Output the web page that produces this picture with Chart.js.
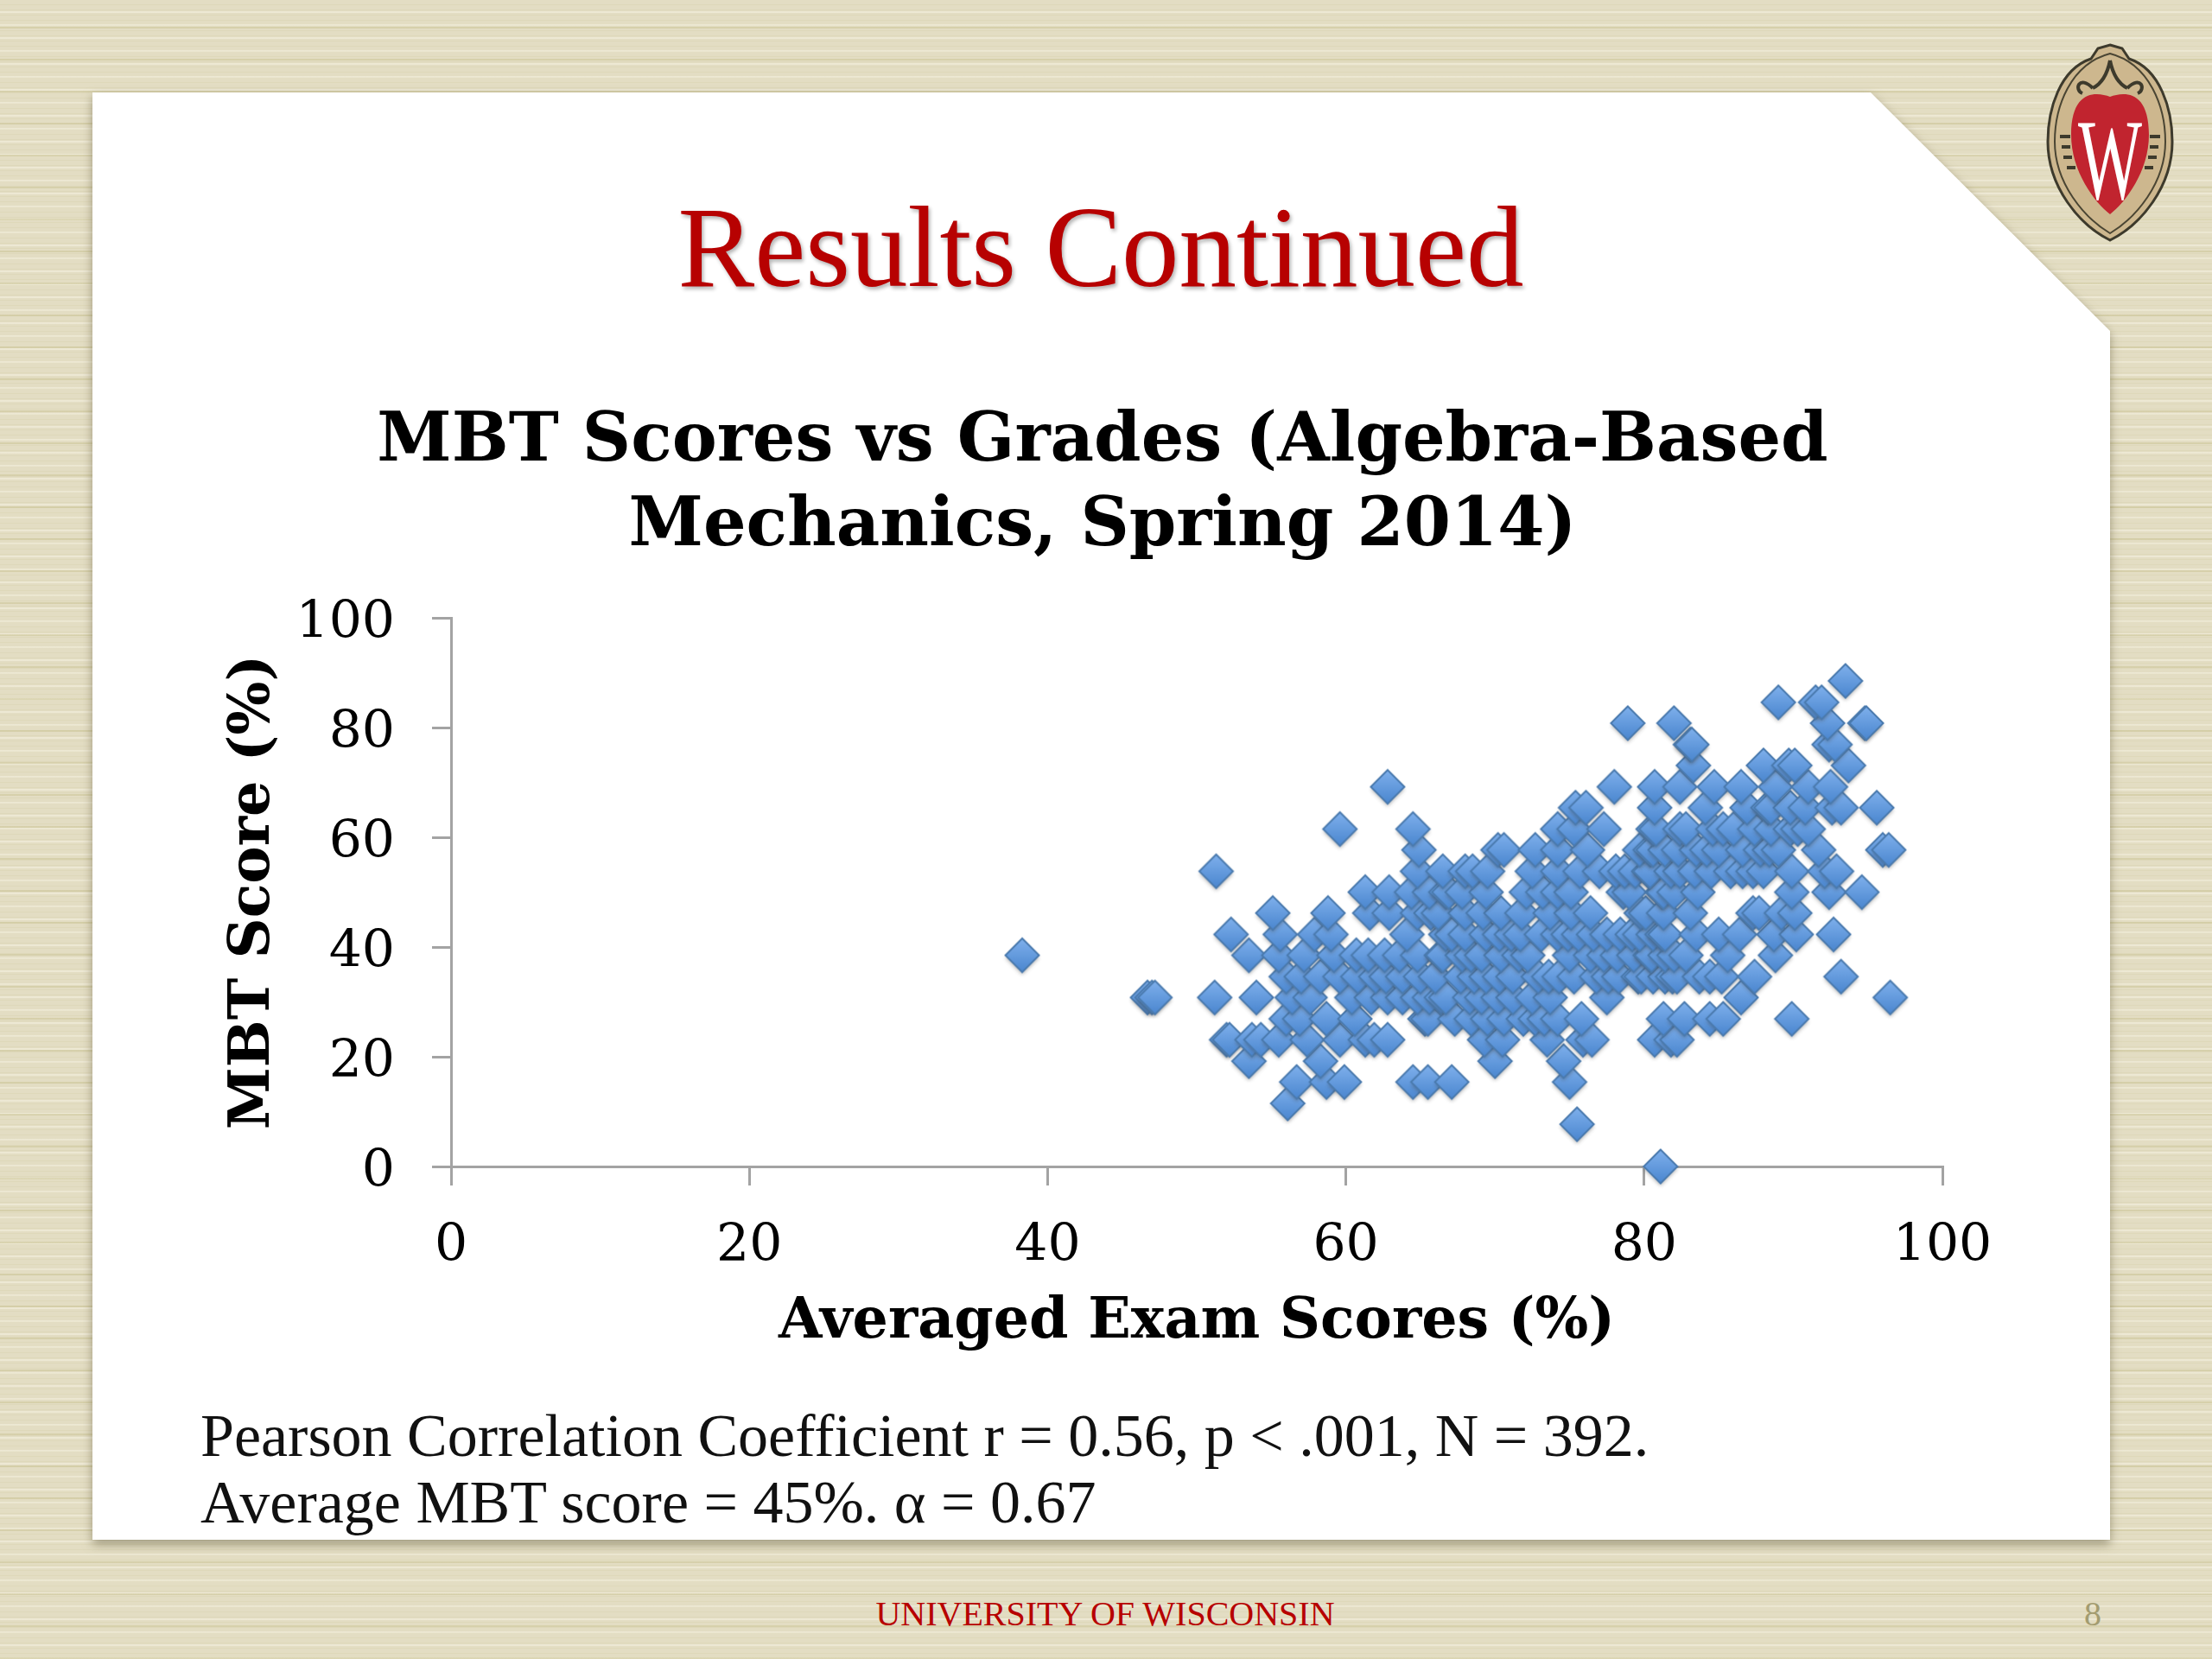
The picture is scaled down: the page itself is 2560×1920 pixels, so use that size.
<!DOCTYPE html>
<html>
<head>
<meta charset="utf-8">
<script src="https://cdn.jsdelivr.net/npm/chart.js@4/dist/chart.umd.min.js"></script>
<style>
html, body { margin: 0; padding: 0; }
body {
  position: relative; width: 2560px; height: 1920px; overflow: hidden;
  background-color: #e3ddc3;
  background-image:
    repeating-linear-gradient(0deg, rgba(195,188,135,.4) 0 2px, transparent 2px 37px),
    repeating-linear-gradient(0deg, rgba(245,241,225,.55) 0 2px, transparent 2px 15px),
    repeating-linear-gradient(0deg, rgba(210,204,165,.3) 0 1px, transparent 1px 6px);
}
.slide-wrap { position: absolute; left: 0; top: 0; width: 2560px; height: 1920px; filter: drop-shadow(0 5px 6px rgba(95,88,55,.55)); }
.slide { position: absolute; left: 107px; top: 107px; width: 2335px; height: 1675px; background: #fff;
  clip-path: polygon(0 0, 2058px 0, 2335px 276px, 2335px 1675px, 0 1675px); }
.txt { position: absolute; font-family: "Liberation Serif", serif; white-space: nowrap; }
#head { left: 0; width: 2548px; top: 211px; text-align: center; font-size: 133px; line-height: 150px; color: #b70101; text-shadow: 2px 3px 4px rgba(0,0,0,.3); }
#stats { left: 232px; top: 1623px; font-size: 70px; line-height: 77px; color: #111; }
#foot { left: 0; width: 2558px; top: 1846px; text-align: center; font-size: 40px; line-height: 44px; color: #b70101; }
#page { left: 2412px; top: 1846px; font-size: 40px; line-height: 44px; color: #a39c70; }
#crest { position: absolute; left: 2360px; top: 46px; }
#chartBox { position: absolute; left: 200px; top: 440px; width: 2152px; height: 1160px; }
</style>
</head>
<body>
<div class="slide-wrap"><div class="slide"></div></div>
<div class="txt" id="head">Results Continued</div>
<svg id="crest" width="164" height="240" viewBox="0 0 164 240">
  <path d="M82 6 L96 10 L104 22 C140 34 154 80 154 118 C154 170 118 214 82 232 C46 214 10 170 10 118 C10 80 24 34 60 22 L68 10 Z" fill="#cdb78e" stroke="#3d3a2c" stroke-width="3"/>
  <path d="M82 16 C128 28 146 78 146 118 C146 166 112 206 82 224 C52 206 18 166 18 118 C18 78 36 28 82 16 Z" fill="none" stroke="#4a4533" stroke-width="2"/>
  <path d="M62 56 C46 40 40 58 50 62 M102 56 C118 40 124 58 114 62 M82 24 C78 44 70 52 62 56 M82 24 C86 44 94 52 102 56" fill="none" stroke="#3d3a2c" stroke-width="4"/>
  <path d="M24 112 h12 M26 124 h10 M28 136 h10 M32 148 h10 M140 112 h-12 M138 124 h-10 M136 136 h-10 M132 148 h-10" fill="none" stroke="#3d3a2c" stroke-width="4"/>
  <path d="M82 66 C98 60 127 58 127 110 C127 152 100 188 82 202 C64 188 37 152 37 110 C37 58 66 60 82 66 Z" fill="#c1242f"/>
  <text x="82" y="184" text-anchor="middle" font-family="Liberation Serif" font-size="134" fill="#fff" textLength="74" lengthAdjust="spacingAndGlyphs">W</text>
</svg>
<div id="chartBox"><canvas id="myChart" width="2152" height="1160"></canvas></div>
<div class="txt" id="stats">Pearson Correlation Coefficient r = 0.56, p &lt; .001, N = 392.<br>Average MBT score = 45%. α = 0.67</div>
<div class="txt" id="foot">UNIVERSITY OF WISCONSIN</div>
<div class="txt" id="page">8</div>
<script>
let titleLines = ['MBT Scores vs Grades (Algebra-Based', 'Mechanics, Spring 2014)'];
let xAxisName = 'Averaged Exam Scores (%)';
let yAxisName = 'MBT Score (%)';
let xTickValues = [0, 20, 40, 60, 80, 100];
let yTickValues = [0, 20, 40, 60, 80, 100];

// MBT scores come in steps of one question, so the points sit in rows
let mbtRows = [0, 7.7, 11.5, 15.4, 19.2, 23.1, 26.9, 30.8, 34.6, 38.5, 42.3, 46.2, 50, 53.8, 57.7, 61.5, 65.4, 69.2, 73.1, 76.9, 80.8, 84.6, 88.5];

// exam scores, one list per row above
let examByRow = [
  [81.1],
  [75.5],
  [56.1],
  [56.7, 58.7, 59.9, 64.5, 65.5, 67.1, 75.0],
  [53.5, 58.3, 70.0, 74.6],
  [52.0, 52.2, 53.7, 54.3, 55.5, 57.4, 59.6, 61.3, 61.9, 62.8, 69.3, 70.5, 73.5, 75.9, 76.5, 80.7, 81.8, 82.2],
  [56.0, 56.9, 58.7, 60.6, 65.3, 65.5, 67.3, 68.4, 69.5, 70.6, 71.9, 72.7, 73.3, 74.2, 75.8, 81.3, 82.7, 84.4, 85.3, 89.9],
  [46.7, 47.0, 47.2, 51.2, 54.0, 56.4, 57.6, 60.4, 61.7, 62.8, 63.8, 64.8, 65.6, 66.4, 66.7, 68.3, 69.1, 70.2, 71.2, 72.5, 73.7, 77.5, 86.5, 96.5],
  [56.0, 57.0, 58.3, 59.6, 60.8, 62.0, 62.7, 63.8, 65.0, 66.0, 67.7, 68.6, 69.4, 70.3, 71.2, 72.9, 73.6, 74.3, 75.3, 76.8, 77.6, 78.3, 79.6, 79.8, 80.6, 81.4, 81.9, 82.2, 83.7, 84.4, 85.2, 87.4, 93.2],
  [38.3, 53.5, 55.5, 57.2, 59.2, 60.7, 61.5, 62.6, 63.6, 64.8, 66.4, 66.5, 67.8, 68.4, 69.1, 70.4, 71.6, 72.2, 75.0, 76.4, 77.3, 78.2, 79.3, 80.4, 80.5, 81.4, 82.0, 82.8, 85.6, 88.8],
  [52.3, 55.6, 57.9, 59.0, 64.1, 66.7, 67.1, 68.0, 69.4, 70.3, 71.1, 71.7, 73.1, 74.2, 74.9, 75.6, 76.6, 77.5, 78.4, 79.2, 79.7, 80.6, 81.2, 81.4, 83.5, 85.0, 86.4, 88.7, 90.2, 92.7],
  [55.1, 58.8, 61.6, 62.9, 64.8, 65.7, 66.2, 68.0, 69.2, 70.4, 71.8, 73.7, 75.1, 76.4, 79.8, 80.1, 81.3, 83.1, 87.3, 87.7, 89.2, 90.1],
  [61.3, 62.9, 64.4, 65.6, 66.7, 66.9, 67.8, 69.4, 72.1, 73.2, 74.2, 75.1, 78.6, 79.0, 81.2, 81.3, 82.0, 83.6, 89.9, 92.4, 94.6],
  [51.3, 64.8, 66.5, 68.0, 68.5, 69.5, 72.5, 74.2, 75.7, 77.0, 78.1, 78.7, 79.4, 80.3, 80.4, 81.8, 82.4, 83.4, 84.5, 85.8, 86.6, 87.3, 88.0, 89.9, 92.1, 92.9],
  [64.9, 70.2, 70.6, 72.7, 74.2, 76.2, 79.7, 80.4, 80.6, 81.4, 82.3, 83.5, 84.2, 85.0, 86.6, 87.8, 88.4, 89.0, 91.7, 96.0, 96.4],
  [59.6, 64.5, 74.2, 75.3, 77.3, 80.6, 80.8, 82.4, 82.8, 84.6, 85.3, 86.0, 87.4, 88.5, 89.8, 90.3, 91.0],
  [75.4, 76.1, 80.7, 84.1, 86.9, 88.3, 88.5, 89.8, 90.8, 92.6, 93.2, 95.6],
  [62.8, 78.0, 80.7, 82.4, 84.7, 86.5, 88.8, 91.0, 92.5],
  [83.3, 88.0, 89.7, 90.1, 93.7],
  [83.1, 83.2, 92.4, 92.8],
  [78.9, 82.0, 92.3, 94.8, 94.9],
  [89.0, 91.5, 91.9],
  [93.5]
];

let points = [];
mbtRows.forEach(function(mbt, i) {
  examByRow[i].forEach(function(exam) {
    points.push({x: exam, y: mbt});
  });
});

// the glossy diamond marker
function makeDiamond() {
  let c = document.createElement('canvas');
  c.width = 54;
  c.height = 54;
  let g = c.getContext('2d');
  let mid = 27, r = 19.5;
  let fill = g.createLinearGradient(0, mid - r, 0, mid + r);
  fill.addColorStop(0, '#7fb0ec');
  fill.addColorStop(1, '#4a86cf');
  g.beginPath();
  g.moveTo(mid, mid - r);
  g.lineTo(mid + r, mid);
  g.lineTo(mid, mid + r);
  g.lineTo(mid - r, mid);
  g.closePath();
  g.shadowColor = 'rgba(70,70,70,.4)';
  g.shadowBlur = 4;
  g.shadowOffsetY = 3;
  g.fillStyle = fill;
  g.fill();
  g.shadowColor = 'transparent';
  g.lineWidth = 2;
  g.strokeStyle = '#4a7aae';
  g.stroke();
  return c;
}

let serif = 'Liberation Serif';
let wideSerif = 'DejaVu Serif';
let chartElement = document.getElementById('myChart').getContext('2d');

let myChart = new Chart(chartElement, {
  type: 'scatter',
  data: {
    datasets: [{
      data: points,
      pointStyle: makeDiamond(),
      pointRadius: 18,
      clip: false
    }]
  },
  options: {
    responsive: false,
    animation: false,
    devicePixelRatio: 1,
    plugins: {
      legend: { display: false },
      tooltip: { enabled: false },
      title: {
        display: true,
        text: titleLines,
        color: '#000',
        font: { family: wideSerif, size: 78, weight: 'bold', lineHeight: 98 / 78 },
        padding: { top: 24, bottom: 55 }
      }
    },
    scales: {
      x: {
        type: 'linear',
        min: 0,
        max: 100,
        afterFit: function(s) { s.height = 250; s.paddingRight = 104; },
        afterBuildTicks: function(s) { s.ticks = xTickValues.map(function(v) { return {value: v}; }); },
        grid: { drawOnChartArea: false, drawTicks: true, tickLength: 22, color: '#a3a3a3', lineWidth: 3 },
        border: { display: true, color: '#a3a3a3', width: 3 },
        ticks: { color: '#000', padding: 35, maxRotation: 0, font: { family: wideSerif, size: 60 } },
        title: { display: true, text: xAxisName, color: '#000', padding: { top: 0, bottom: 30 }, font: { family: wideSerif, size: 65, weight: 'bold' } }
      },
      y: {
        type: 'linear',
        min: 0,
        max: 100,
        afterFit: function(s) { s.width = 322; },
        afterBuildTicks: function(s) { s.ticks = yTickValues.map(function(v) { return {value: v}; }); },
        grid: { drawOnChartArea: false, drawTicks: true, tickLength: 22, color: '#a3a3a3', lineWidth: 3 },
        border: { display: true, color: '#a3a3a3', width: 3 },
        ticks: { color: '#000', padding: 43, labelOffset: 7, font: { family: wideSerif, size: 60 } },
        title: { display: true, text: yAxisName, color: '#000', padding: { top: 55, bottom: 0 }, font: { family: wideSerif, size: 65, weight: 'bold' } }
      }
    }
  }
});
</script>
</body>
</html>
